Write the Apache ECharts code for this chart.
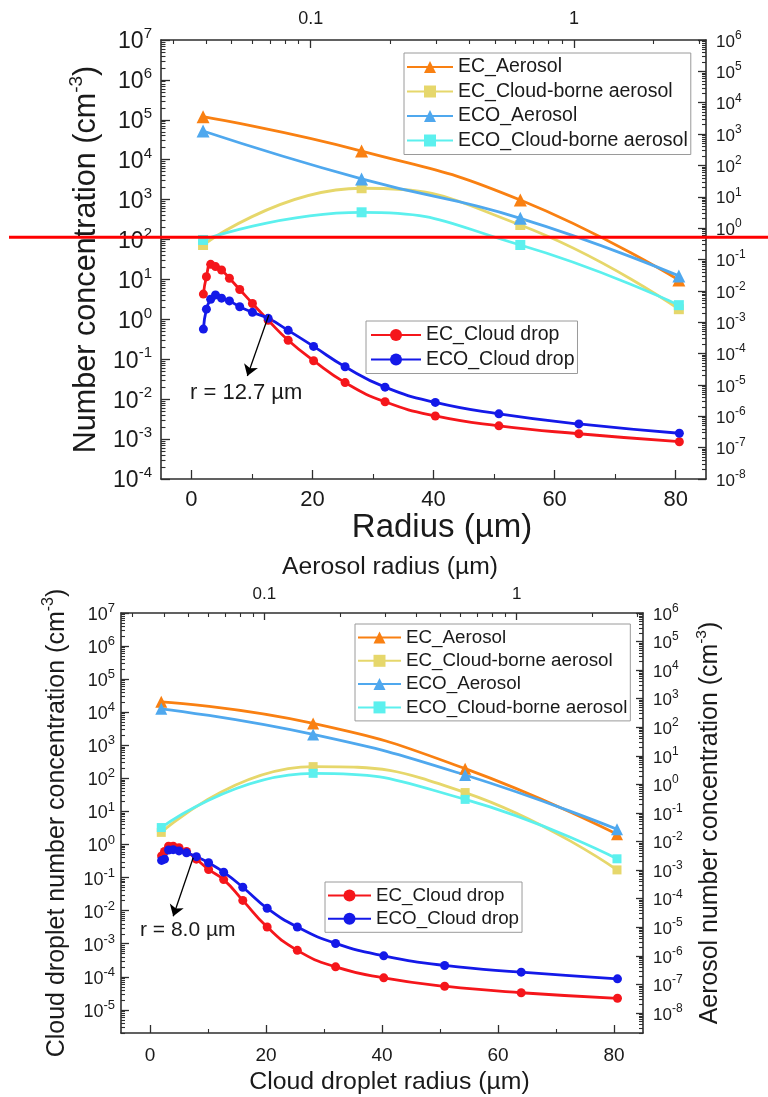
<!DOCTYPE html>
<html>
<head>
<meta charset="utf-8">
<script src="https://cdn.jsdelivr.net/npm/echarts@6/dist/echarts.min.js"></script>
<style>
  html, body { margin: 0; padding: 0; background: #ffffff; }
  #main { width: 768px; height: 1097px; }
</style>
</head>
<body>
<div id="main"></div>
<script>
// Cloud droplet size bins (µm) and aerosol size bins (µm)
const dropRadius = [2.0, 2.5, 3.2, 4.0, 5.0, 6.3, 8.0, 10.1, 12.7, 16.0, 20.2, 25.4, 32.0, 40.3, 50.8, 64.0, 80.6];
const aerosolRadius = [0.039, 0.156, 0.625, 2.5];

// Upper panel (cm^-3)
const ecDropUpper = [4.3, 11.7, 23.9, 21.0, 17.2, 10.7, 5.6, 2.5, 0.95, 0.30, 0.092, 0.026, 0.0086, 0.0038, 0.00215, 0.00136, 0.00086];
const ecoDropUpper = [0.57, 1.8, 3.2, 4.1, 3.4, 2.9, 2.07, 1.5, 1.06, 0.53, 0.21, 0.065, 0.020, 0.0083, 0.0043, 0.0024, 0.0014];
const ecAerosolUpper = [3580, 288, 7.9, 0.022];
const ecCloudAerosolUpper = [0.29, 18.7, 1.26, 0.0026];
const ecoAerosolUpper = [1250, 37, 2.06, 0.030];
const ecoCloudAerosolUpper = [0.42, 3.2, 0.29, 0.0035];

// Lower panel (cm^-3)
const ecDropLower = [0.45, 0.62, 0.89, 0.89, 0.80, 0.62, 0.36, 0.176, 0.087, 0.0204, 0.0032, 0.00063, 0.00020, 0.000093, 0.000052, 0.000033, 0.0000224];
const ecoDropLower = [0.33, 0.36, 0.68, 0.70, 0.64, 0.56, 0.43, 0.28, 0.146, 0.051, 0.0118, 0.0032, 0.00102, 0.00043, 0.00022, 0.000138, 0.000087];
const ecAerosolLower = [780, 136, 3.57, 0.018];
const ecCloudAerosolLower = [0.021, 4.2, 0.52, 0.00102];
const ecoAerosolLower = [445, 56, 2.14, 0.027];
const ecoCloudAerosolLower = [0.031, 2.45, 0.30, 0.0025];

// Axis tick values
const radiusTicks = [0, 20, 40, 60, 80];
const radiusMinorTicks = [10, 30, 50, 70];
const aerosolTicks = [0.1, 1];
const aerosolMinorTicks = [0.03, 0.04, 0.05, 0.06, 0.07, 0.08, 0.09, 0.2, 0.3, 0.4, 0.5, 0.6, 0.7, 0.8, 0.9, 2, 3];
const upperLeftExponents = [-4, -3, -2, -1, 0, 1, 2, 3, 4, 5, 6, 7];
const upperRightExponents = [-8, -7, -6, -5, -4, -3, -2, -1, 0, 1, 2, 3, 4, 5, 6];
const lowerLeftExponents = [-5, -4, -3, -2, -1, 0, 1, 2, 3, 4, 5, 6, 7];
const lowerRightExponents = [-8, -7, -6, -5, -4, -3, -2, -1, 0, 1, 2, 3, 4, 5, 6];

const names = {
  ecAer: 'EC_Aerosol', ecCld: 'EC_Cloud-borne aerosol',
  ecoAer: 'ECO_Aerosol', ecoCld: 'ECO_Cloud-borne aerosol',
  ecDrop: 'EC_Cloud drop', ecoDrop: 'ECO_Cloud drop'
};
const colors = {
  ecAer: '#F98012', ecCld: '#E6D76B', ecoAer: '#4FA8EE', ecoCld: '#5CF0EE',
  ecDrop: '#F5161B', ecoDrop: '#1419E8'
};

const FONT = '"Liberation Sans", Arial, Helvetica, sans-serif';
const AXIS_COLOR = '#2e2e2e';
const TEXT_COLOR = '#1a1a1a';

const pairs = (xs, ys) => xs.map((x, i) => [x, ys[i]]);
const pow10 = exps => exps.map(e => Math.pow(10, e));
function minorOf(exps) {
  const out = [];
  for (let i = 0; i < exps.length - 1; i++) {
    for (let k = 2; k <= 9; k++) out.push(k * Math.pow(10, exps[i]));
  }
  return out;
}
function powLabel(v) {
  return '{b|10}{s|' + Math.round(Math.log10(v)) + '}';
}
function powRich(base, sup) {
  return {
    b: { fontSize: base, fontFamily: FONT, color: TEXT_COLOR, lineHeight: base + 4, verticalAlign: 'bottom' },
    s: { fontSize: sup, fontFamily: FONT, color: TEXT_COLOR, lineHeight: sup, verticalAlign: 'top' }
  };
}
function titleRich(base, sup) {
  return {
    n: { fontSize: base, fontFamily: FONT, color: TEXT_COLOR, lineHeight: base + 4, verticalAlign: 'bottom' },
    s: { fontSize: sup, fontFamily: FONT, color: TEXT_COLOR, lineHeight: sup, verticalAlign: 'top' }
  };
}
const lineStyleAxis = { color: AXIS_COLOR, width: 1.6 };

// Decade log axis with exponent labels
function logAxis(grid, pos, exps, o) {
  const ax = {
    gridIndex: grid, type: 'log', position: pos,
    min: o.min != null ? o.min : Math.pow(10, exps[0]),
    max: Math.pow(10, exps[exps.length - 1]),
    axisLine: { show: true, onZero: false, lineStyle: lineStyleAxis },
    axisTick: { show: true, inside: true, length: o.tick, customValues: pow10(exps), lineStyle: { color: AXIS_COLOR, width: 1.3 } },
    axisLabel: { show: true, margin: o.margin, customValues: pow10(exps), formatter: powLabel, rich: powRich(o.font, o.sup) },
    splitLine: { show: false }, minorTick: { show: false }
  };
  if (o.name) {
    ax.name = o.name;
    ax.nameLocation = 'middle';
    ax.nameGap = o.nameGap;
    ax.nameTextStyle = { rich: titleRich(o.nameFont, o.nameSup) };
  }
  return ax;
}
function logMinorAxis(grid, pos, exps, min, len) {
  const mins = minorOf(exps).filter(v => v >= min);
  return {
    gridIndex: grid, type: 'log', position: pos,
    min: min, max: Math.pow(10, exps[exps.length - 1]),
    axisLine: { show: false, onZero: false }, axisLabel: { show: false }, splitLine: { show: false },
    axisTick: { show: true, inside: true, length: len, customValues: mins, lineStyle: { color: AXIS_COLOR, width: 1.1 } }
  };
}
function radiusAxis(grid, o) {
  return {
    gridIndex: grid, type: 'value', position: 'bottom', min: -5, max: 85,
    axisLine: { show: true, onZero: false, lineStyle: lineStyleAxis },
    axisTick: { show: true, inside: true, length: o.tick, customValues: radiusTicks, lineStyle: { color: AXIS_COLOR, width: 1.3 } },
    axisLabel: { show: true, margin: o.margin, customValues: radiusTicks, fontSize: o.font, fontFamily: FONT, color: TEXT_COLOR },
    splitLine: { show: false },
    name: o.name, nameLocation: 'middle', nameGap: o.nameGap,
    nameTextStyle: { fontSize: o.nameFont, fontFamily: FONT, color: TEXT_COLOR, padding: [0, 0, 0, o.shift || 0] }
  };
}
function radiusMinorAxis(grid, len) {
  return {
    gridIndex: grid, type: 'value', position: 'bottom', min: -5, max: 85,
    axisLine: { show: false, onZero: false }, axisLabel: { show: false }, splitLine: { show: false },
    axisTick: { show: true, inside: true, length: len, customValues: radiusMinorTicks, lineStyle: { color: AXIS_COLOR, width: 1.1 } }
  };
}
function aerosolAxis(grid, o) {
  const ax = {
    gridIndex: grid, type: 'log', position: 'top', min: 0.027, max: 3.17,
    axisLine: { show: true, onZero: false, lineStyle: lineStyleAxis },
    axisTick: { show: true, inside: true, length: o.tick, customValues: aerosolTicks, lineStyle: { color: AXIS_COLOR, width: 1.3 } },
    axisLabel: { show: true, margin: o.margin, customValues: aerosolTicks, fontSize: o.font, fontFamily: FONT, color: TEXT_COLOR,
                 formatter: v => String(v) },
    splitLine: { show: false }
  };
  if (o.name) {
    ax.name = o.name; ax.nameLocation = 'middle'; ax.nameGap = o.nameGap;
    ax.nameTextStyle = { fontSize: o.nameFont, fontFamily: FONT, color: TEXT_COLOR, padding: [0, 0, 0, o.shift || 0] };
  }
  return ax;
}
function aerosolMinorAxis(grid, len) {
  return {
    gridIndex: grid, type: 'log', position: 'top', min: 0.027, max: 3.17,
    axisLine: { show: false, onZero: false }, axisLabel: { show: false }, splitLine: { show: false },
    axisTick: { show: true, inside: true, length: len, customValues: aerosolMinorTicks, lineStyle: { color: AXIS_COLOR, width: 1.1 } }
  };
}

function aerosolSeries(name, key, xIdx, yIdx, vals, symbol, size) {
  return {
    name: name, type: 'line', xAxisIndex: xIdx, yAxisIndex: yIdx,
    data: pairs(aerosolRadius, vals), smooth: true,
    symbol: symbol, symbolSize: size, showSymbol: true,
    lineStyle: { color: colors[key], width: 2.8 }, itemStyle: { color: colors[key] },
    emphasis: { disabled: true }
  };
}
function dropSeries(name, key, xIdx, yIdx, vals, size, arrow) {
  const s = {
    name: name, type: 'line', xAxisIndex: xIdx, yAxisIndex: yIdx,
    data: pairs(dropRadius, vals), smooth: true,
    symbol: 'circle', symbolSize: size, showSymbol: true,
    lineStyle: { color: colors[key], width: 2.8 }, itemStyle: { color: colors[key] },
    emphasis: { disabled: true }
  };
  if (arrow) {
    s.markLine = {
      silent: true, symbol: ['none', 'arrow'], symbolSize: 11, animation: false,
      lineStyle: { color: '#000', width: 1.3, type: 'solid' }, label: { show: false },
      data: [[{ coord: arrow[0] }, { coord: arrow[1] }]]
    };
  }
  return s;
}

function legendBox(items, left, top, pad, fontSize, gap, iconWidth) {
  return {
    data: items, orient: 'vertical', left: left, top: top, padding: pad,
    itemWidth: iconWidth, itemHeight: 15, itemGap: gap, selectedMode: false,
    borderColor: '#9a9a9a', borderWidth: 1, backgroundColor: '#ffffff', borderRadius: 0,
    textStyle: { fontSize: fontSize, fontFamily: FONT, color: TEXT_COLOR, lineHeight: fontSize }
  };
}

const chart = echarts.init(document.getElementById('main'), null, { renderer: 'canvas' });

const option = {
  animation: false,
  backgroundColor: '#ffffff',
  grid: [
    { left: 161, top: 40, width: 545, height: 439, outerBoundsMode: 'none', containLabel: false },
    { left: 121, top: 613, width: 522, height: 420, outerBoundsMode: 'none', containLabel: false }
  ],
  xAxis: [
    radiusAxis(0, { tick: 9, margin: 10, font: 22, name: 'Radius (µm)', nameGap: 30, nameFont: 33, shift: 17 }),
    aerosolAxis(0, { tick: 8, margin: 12, font: 18 }),
    radiusMinorAxis(0, 5),
    aerosolMinorAxis(0, 4),
    radiusAxis(1, { tick: 8, margin: 13, font: 19, name: 'Cloud droplet radius (µm)', nameGap: 37, nameFont: 24.8, shift: 15 }),
    aerosolAxis(1, { tick: 7, margin: 10, font: 17, name: 'Aerosol radius (µm)', nameGap: 33, nameFont: 24.7, shift: 16 }),
    radiusMinorAxis(1, 4),
    aerosolMinorAxis(1, 4)
  ],
  yAxis: [
    logAxis(0, 'left', upperLeftExponents, { tick: 9, margin: 9, font: 23, sup: 15,
      name: '{n|Number concentration (cm}{s|-3}{n|)}', nameGap: 38, nameFont: 30.6, nameSup: 19 }),
    logAxis(0, 'right', upperRightExponents, { tick: 8, margin: 10, font: 17, sup: 12 }),
    logMinorAxis(0, 'left', upperLeftExponents, 1e-4, 4.5),
    logMinorAxis(0, 'right', upperRightExponents, 1e-8, 4),
    logAxis(1, 'left', lowerLeftExponents, { min: 2e-6, tick: 8, margin: 6, font: 18, sup: 13,
      name: '{n|Cloud droplet number concentration (cm}{s|-3}{n|)}', nameGap: 51, nameFont: 25, nameSup: 16 }),
    logAxis(1, 'right', lowerRightExponents, { min: 2e-9, tick: 7, margin: 10, font: 17, sup: 12,
      name: '{n|Aerosol number concentration (cm}{s|-3}{n|)}', nameGap: 41, nameFont: 24.9, nameSup: 15.5 }),
    logMinorAxis(1, 'left', [-6].concat(lowerLeftExponents), 2e-6, 4),
    logMinorAxis(1, 'right', [-9].concat(lowerRightExponents), 2e-9, 4)
  ],
  legend: [
    legendBox([names.ecAer, names.ecCld, names.ecoAer, names.ecoCld], 404, 53, [4, 3, 4, 2], 19.5, 4.5, 46),
    legendBox([names.ecDrop, names.ecoDrop], 366, 321, [4, 3, 4, 4], 19.5, 4.5, 50),
    legendBox([names.ecAer, names.ecCld, names.ecoAer, names.ecoCld], 355, 624, [4, 3, 4, 2], 18.8, 4.3, 43),
    legendBox([names.ecDrop, names.ecoDrop], 325, 882, [4, 3, 4, 2], 18.8, 4.3, 43)
  ],
  series: [
    aerosolSeries(names.ecAer, 'ecAer', 1, 1, ecAerosolUpper, 'triangle', 13),
    aerosolSeries(names.ecCld, 'ecCld', 1, 1, ecCloudAerosolUpper, 'rect', 10),
    aerosolSeries(names.ecoAer, 'ecoAer', 1, 1, ecoAerosolUpper, 'triangle', 13),
    aerosolSeries(names.ecoCld, 'ecoCld', 1, 1, ecoCloudAerosolUpper, 'rect', 10),
    dropSeries(names.ecDrop, 'ecDrop', 0, 0, ecDropUpper, 9, [[12.8, 1.28], [9.26, 0.038]]),
    dropSeries(names.ecoDrop, 'ecoDrop', 0, 0, ecoDropUpper, 9),

    aerosolSeries(names.ecAer, 'ecAer', 5, 5, ecAerosolLower, 'triangle', 12),
    aerosolSeries(names.ecCld, 'ecCld', 5, 5, ecCloudAerosolLower, 'rect', 9),
    aerosolSeries(names.ecoAer, 'ecoAer', 5, 5, ecoAerosolLower, 'triangle', 12),
    aerosolSeries(names.ecoCld, 'ecoCld', 5, 5, ecoCloudAerosolLower, 'rect', 9),
    dropSeries(names.ecDrop, 'ecDrop', 4, 4, ecDropLower, 9, [[7.45, 0.40], [4.0, 0.0068]]),
    dropSeries(names.ecoDrop, 'ecoDrop', 4, 4, ecoDropLower, 9)
  ],
  graphic: [
    { type: 'text', left: 190, top: 382, silent: true,
      style: { text: 'r = 12.7 µm', fontSize: 22, fontFamily: FONT, fill: TEXT_COLOR } },
    { type: 'text', left: 140, top: 920, silent: true,
      style: { text: 'r = 8.0 µm', fontSize: 21, fontFamily: FONT, fill: TEXT_COLOR } },
    { type: 'line', silent: true, z: 200,
      shape: { x1: 9, y1: 237.3, x2: 768, y2: 237.3 },
      style: { stroke: '#FF0000', lineWidth: 3 } }
  ]
};

chart.setOption(option);
</script>
</body>
</html>
